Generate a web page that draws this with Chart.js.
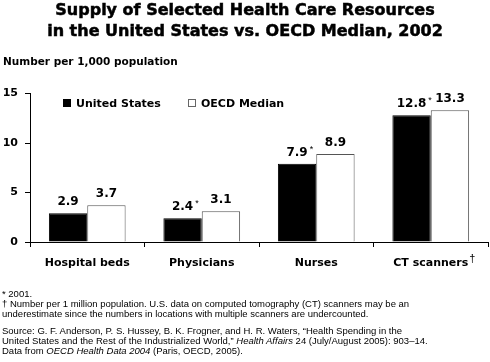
<!DOCTYPE html>
<html>
<head>
<meta charset="utf-8">
<script src="https://cdn.jsdelivr.net/npm/chart.js@4/dist/chart.umd.min.js"></script>
<style>
  body { margin: 0; background: #fff; }
  #wrap { position: relative; width: 490px; height: 362px; overflow: hidden; }
  #chart { position: absolute; left: 0; top: 0; }
  .title { position: absolute; left: 0; width: 490px; top: -1px; text-align: center;
    font: bold 16px "DejaVu Sans", sans-serif; line-height: 21px; color: #000;
    -webkit-text-stroke: 0.5px #000; }
  .unit { position: absolute; left: 3px; top: 55px; font: bold 10.5px "DejaVu Sans", sans-serif; }
  .note { position: absolute; left: 2px; font: 9.5px "Liberation Sans", Arial, sans-serif;
    line-height: 10px; white-space: nowrap; color: #000; }
</style>
</head>
<body>
<div id="wrap">
  <canvas id="chart" width="490" height="362"></canvas>
  <div class="title">Supply of Selected Health Care Resources<br>in the United States vs. OECD Median, 2002</div>
  <div class="unit">Number per 1,000 population</div>
  <div class="note" style="top:289px">* 2001.</div>
  <div class="note" style="top:299px">† Number per 1 million population. U.S. data on computed tomography (CT) scanners may be an<br>underestimate since the numbers in locations with multiple scanners are undercounted.</div>
  <div class="note" style="top:326px">Source: G. F. Anderson, P. S. Hussey, B. K. Frogner, and H. R. Waters, “Health Spending in the<br>United States and the Rest of the Industrialized World,” <i>Health Affairs</i> 24 (July/August 2005): 903–14.<br>Data from <i>OECD Health Data 2004</i> (Paris, OECD, 2005).</div>
</div>
<script>
const categories = ['Hospital beds', 'Physicians', 'Nurses', 'CT scanners'];
const categoryMarks = ['', '', '', '†'];
const usValues = [2.9, 2.4, 7.9, 12.8];
const usMarks = ['', '*', '*', '*'];
const oecdValues = [3.7, 3.1, 8.9, 13.3];
const oecdMarks = ['', '', '', ''];
const yTicks = [0, 5, 10, 15];

const BOLD = '"DejaVu Sans", sans-serif';

const extras = {
  id: 'extras',
  afterDatasetsDraw(chart) {
    const ctx = chart.ctx;
    const marks = [usMarks, oecdMarks];
    ctx.save();
    ctx.fillStyle = '#000';
    chart.data.datasets.forEach((ds, di) => {
      chart.getDatasetMeta(di).data.forEach((bar, i) => {
        const txt = ds.data[i].toFixed(1);
        ctx.font = 'bold 12px ' + BOLD;
        ctx.textAlign = 'center';
        ctx.textBaseline = 'alphabetic';
        const y = bar.y - 8;
        ctx.fillText(txt, bar.x, y);
        if (marks[di][i]) {
          const w = ctx.measureText(txt).width;
          ctx.font = '9px "Liberation Sans", sans-serif';
          ctx.textAlign = 'left';
          ctx.fillText(marks[di][i], bar.x + w / 2 + 2, y - 4);
        }
      });
    });

    // footnote marks on category labels
    const xs = chart.scales.x;
    categories.forEach((c, i) => {
      if (!categoryMarks[i]) return;
      ctx.font = 'bold 11px ' + BOLD;
      const w = ctx.measureText(c).width;
      ctx.font = '11px "Liberation Sans", sans-serif';
      ctx.textAlign = 'left';
      ctx.fillText(categoryMarks[i], xs.getPixelForValue(i) + w / 2 + 1, 262);
    });

    // legend inside plot area
    ctx.font = 'bold 11px ' + BOLD;
    ctx.textAlign = 'left';
    const items = [[63, 76], [188, 201]];
    chart.data.datasets.forEach((ds, di) => {
      const [bx, tx] = items[di];
      ctx.fillStyle = ds.backgroundColor;
      ctx.fillRect(bx, 99, 8, 8);
      ctx.strokeStyle = di === 0 ? '#000' : '#666';
      ctx.lineWidth = 1;
      ctx.strokeRect(bx + 0.5, 99.5, 7, 7);
      ctx.fillStyle = '#000';
      ctx.fillText(ds.label, tx, 107);
    });
    ctx.restore();
  }
};

new Chart(document.getElementById('chart'), {
  type: 'bar',
  data: {
    labels: categories,
    datasets: [
      { label: 'United States', data: usValues, backgroundColor: '#000', borderColor: '#000', borderWidth: 1 },
      { label: 'OECD Median', data: oecdValues, backgroundColor: '#fff', borderColor: '#555', borderWidth: 1 }
    ]
  },
  options: {
    responsive: false,
    animation: false,
    layout: { padding: { top: 93.5, bottom: 80, left: 0, right: 2 } },
    datasets: { bar: { categoryPercentage: 0.67, barPercentage: 1 } },
    plugins: { legend: { display: false }, tooltip: { enabled: false } },
    scales: {
      x: {
        afterFit: s => { s.height = 40; },
        grid: { display: true, drawOnChartArea: false, drawTicks: true, tickLength: 5, color: '#000', offset: true },
        border: { color: '#000', width: 1 },
        ticks: { color: '#000', font: { family: BOLD, size: 11, weight: 'bold' }, padding: 10, maxRotation: 0 }
      },
      y: {
        min: 0, max: 15,
        afterFit: s => { s.width = 30; },
        afterBuildTicks: s => { s.ticks = yTicks.map(v => ({ value: v })); },
        grid: { display: true, drawOnChartArea: false, drawTicks: true, tickLength: 5, color: '#000' },
        border: { color: '#000', width: 1 },
        ticks: { color: '#000', font: { family: BOLD, size: 11, weight: 'bold' }, padding: 7 }
      }
    }
  },
  plugins: [extras]
});
</script>
</body>
</html>
